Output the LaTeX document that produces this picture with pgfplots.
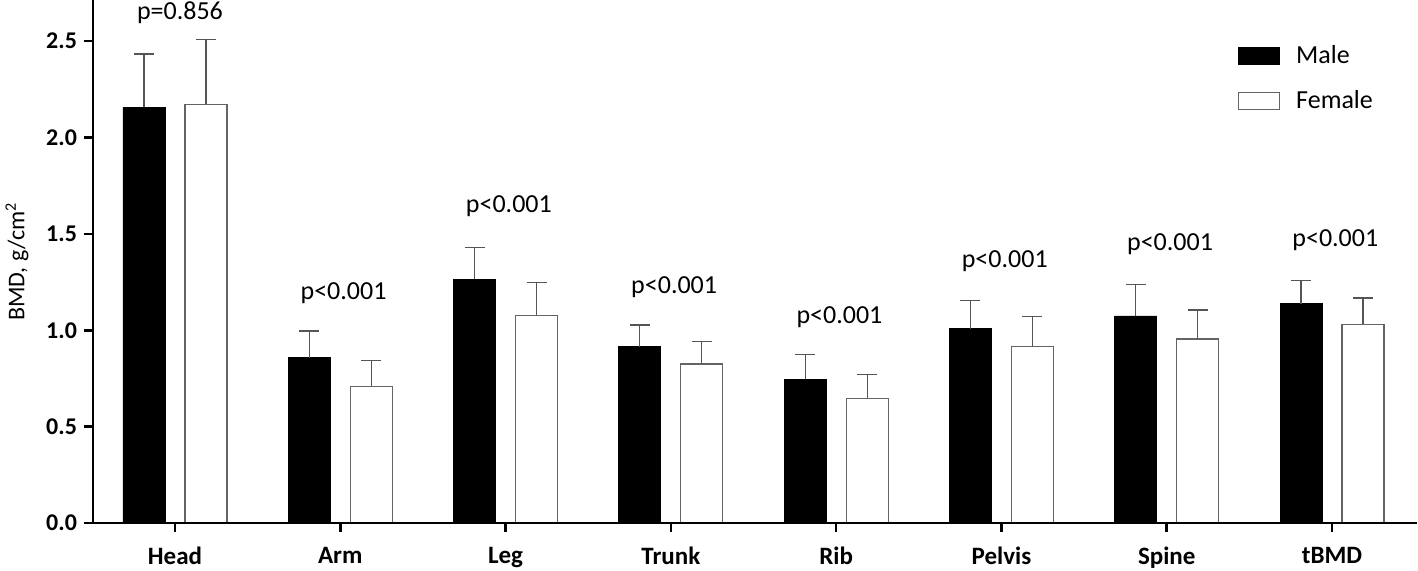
\documentclass[border=0pt]{standalone}
\usepackage{pgfplots}
\pgfplotsset{compat=1.18}
\usepackage{pgfplotstable}
\usepackage{fontspec}
\setmainfont{Carlito}
\definecolor{errgray}{RGB}{85,85,85}
\definecolor{outgray}{RGB}{100,100,100}

\pgfplotstableread{
x  m      me     f      fe
0  2.156  0.277  2.172  0.338
1  0.858  0.138  0.709  0.133
2  1.265  0.165  1.077  0.172
3  0.914  0.113  0.825  0.117
4  0.746  0.127  0.647  0.125
5  1.007  0.149  0.914  0.156
6  1.074  0.162  0.954  0.151
7  1.137  0.119  1.030  0.137
}\bmd

\begin{document}
\begin{tikzpicture}
\begin{axis}[
  scale only axis,
  width=662pt, height=261.5pt,
  xmin=-0.496, xmax=7.514,
  ymin=0, ymax=2.713,
  axis lines=left,
  axis line style={-, line width=1.3pt},
  tick align=outside,
  major tick length=4.5pt,
  tick style={black, line width=1.3pt},
  xtick={0,...,7},
  xticklabels={Head,Arm,Leg,Trunk,Rib,Pelvis,Spine,tBMD},
  xticklabel style={font=\fontsize{12.5}{14}\selectfont\bfseries, yshift=-4pt},
  ytick={0,0.5,...,2.5},
  /pgf/number format/assume math mode=true,
  yticklabel style={font=\fontsize{12}{14}\selectfont\bfseries,
     /pgf/number format/.cd, fixed, fixed zerofill, precision=1},
  ylabel={BMD, g/cm\textsuperscript{2}},
  every axis y label/.style={at={(rel axis cs:0,0.5)}, xshift=-38pt, rotate=90, anchor=center, font=\fontsize{12}{14}\selectfont},
  ybar,
  bar width=21pt,
  axis on top,
  legend style={draw=none, fill=none, at={(rel axis cs:0.860,0.929)}, anchor=north west,
     font=\fontsize{13}{15}\selectfont, row sep=8pt, legend cell align=left},
  legend image code/.code={\draw[#1] (0pt,-4.25pt) rectangle (20.5pt,4.25pt);},
  error bars/error bar style={draw=errgray, line width=0.6pt},
  error bars/error mark options={draw=errgray, line width=0.6pt, mark size=5pt, rotate=90},
]
\addplot+[bar shift=-15.5pt, fill=black, draw=black,
  error bars/.cd, y dir=plus, y explicit]
  table[x=x, y=m, y error=me] {\bmd};
\addlegendentry{\hspace{6pt}Male}
\addplot+[bar shift=15.5pt, fill=white, draw=outgray, line width=0.6pt,
  error bars/.cd, y dir=plus, y explicit]
  table[x=x, y=f, y error=fe] {\bmd};
\addlegendentry{\hspace{6pt}Female}

\node[font=\fontsize{13}{15}\selectfont] at (axis cs:0.03,2.645) {p=0.856};
\node[font=\fontsize{13}{15}\selectfont] at (axis cs:1.02,1.193) {p<0.001};
\node[font=\fontsize{13}{15}\selectfont] at (axis cs:2.02,1.644) {p<0.001};
\node[font=\fontsize{13}{15}\selectfont] at (axis cs:3.02,1.226) {p<0.001};
\node[font=\fontsize{13}{15}\selectfont] at (axis cs:4.02,1.070) {p<0.001};
\node[font=\fontsize{13}{15}\selectfont] at (axis cs:5.02,1.356) {p<0.001};
\node[font=\fontsize{13}{15}\selectfont] at (axis cs:6.02,1.447) {p<0.001};
\node[font=\fontsize{13}{15}\selectfont] at (axis cs:7.02,1.468) {p<0.001};

\coordinate (bl) at (rel axis cs:0,0);
\coordinate (tr) at (rel axis cs:1,1);
\end{axis}
\pgfresetboundingbox
\path ([xshift=-46.5pt,yshift=-23.5pt]bl) rectangle ([xshift=0.5pt]tr);
\end{tikzpicture}
\end{document}
